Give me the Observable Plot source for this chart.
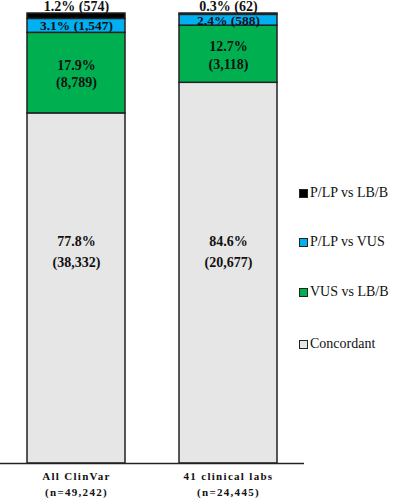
<!DOCTYPE html>
<html><head><meta charset="utf-8">
<script src="https://cdn.jsdelivr.net/npm/d3@7"></script>
<script src="https://cdn.jsdelivr.net/npm/@observablehq/plot@0.6"></script>
<style>
body{margin:0;background:#fff;}
#wrap{position:relative;width:393px;height:500px;}
#legend{position:absolute;left:299px;top:0;font-family:"Liberation Serif","Times New Roman",serif;font-size:14px;color:#111;}
.item{position:absolute;left:0;white-space:nowrap;display:flex;align-items:center;}
.sw{width:7px;height:7px;border:1.3px solid #222;margin-right:2px;}
</style></head>
<body><div id="wrap"><div id="legend"></div></div>
<script>
const groups = ["All ClinVar", "41 clinical labs"];
const groupN = ["n=49,242", "n=24,445"];
const categories = ["Concordant", "VUS vs LB/B", "P/LP vs VUS", "P/LP vs LB/B"];
const colors = ["#e6e6e6", "#00b050", "#00b0f0", "#000000"];
const pctAll = [77.8, 17.9, 3.1, 1.2];
const countAll = [38332, 8789, 1547, 574];
const pctLabs = [84.6, 12.7, 2.4, 0.3];
const countLabs = [20677, 3118, 588, 62];

const fmt = d3.format(",");
const rows = [];
[[pctAll, countAll], [pctLabs, countLabs]].forEach(([p, c], gi) => {
  const cum = d3.cumsum(p);
  p.forEach((v, i) => rows.push({
    group: groups[gi], cat: categories[i], pct: v, count: c[i],
    mid: cum[i] - v / 2, top: cum[i]
  }));
});
const byCat = k => rows.filter(d => d.cat === categories[k]);
const serif = "Liberation Serif, Times New Roman, serif";

const chart = Plot.plot({
  width: 393, height: 500,
  marginTop: 13, marginBottom: 37, marginLeft: 0, marginRight: 89,
  style: {fontFamily: serif, background: "#fff"},
  x: {domain: groups, padding: 0, axis: null},
  y: {domain: [0, 100], axis: null},
  color: {domain: categories, range: colors},
  marks: [
    Plot.barY(rows, Plot.stackY({x: "group", y: "pct", fill: "cat", order: categories,
      stroke: "#222", strokeWidth: 1.5, insetLeft: 27, insetRight: 27})),
    Plot.ruleY([0], {stroke: "#222", strokeWidth: 1.5}),
    Plot.text(byCat(0), {x: "group", y: () => 47.5, text: d => `${d.pct}%\n(${fmt(d.count)})`,
      fontSize: 14, fontWeight: "bold", lineHeight: 1.5, fill: "#111", fontFamily: serif}),
    Plot.text(byCat(1), {x: "group", y: "mid", text: d => `${d.pct}%\n(${fmt(d.count)})`,
      fontSize: 14, fontWeight: "bold", lineHeight: 1.25, fill: "#111", fontFamily: serif}),
    Plot.text(byCat(2), {x: "group", y: "mid", text: d => `${d.pct}% (${fmt(d.count)})`,
      fontSize: 13.5, fontWeight: "bold", fill: "#111", fontFamily: serif}),
    Plot.text(byCat(3), {x: "group", y: "top", dy: -7, text: d => `${d.pct}% (${fmt(d.count)})`,
      fontSize: 14, fontWeight: "bold", fill: "#111", fontFamily: serif}),
    Plot.text(groups, {x: d => d, y: () => 0, dy: 5, text: (d, i) => `${d}\n(${groupN[i]})`,
      fontSize: 11, fontWeight: "bold", lineHeight: 1.45, fill: "#111",
      lineAnchor: "top", fontFamily: serif})
  ]
});
chart.querySelectorAll("text").forEach(t => { if (t.textContent.includes("n=")) t.style.letterSpacing = "1.3px"; });
document.getElementById("wrap").prepend(chart);

const legendOrder = [3, 2, 1, 0];
const tops = [185, 234, 284, 336];
const lg = document.getElementById("legend");
legendOrder.forEach((k, j) => {
  const it = document.createElement("div");
  it.className = "item"; it.style.top = tops[j] + "px";
  it.innerHTML = `<span class="sw" style="background:${colors[k]}"></span><span>${categories[k]}</span>`;
  lg.appendChild(it);
});
</script></body></html>
